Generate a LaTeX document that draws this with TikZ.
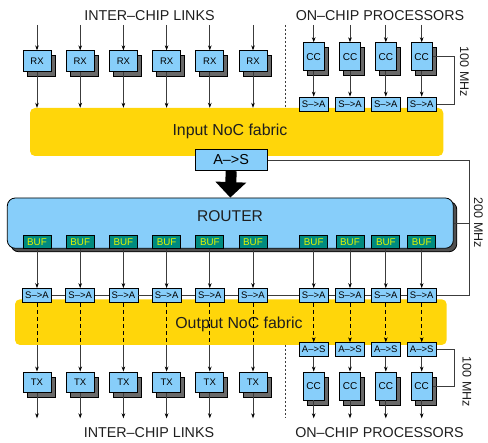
\documentclass[tikz,border=0pt]{standalone}
\usepackage{fontspec}
\setmainfont{Liberation Sans}
\usetikzlibrary{arrows.meta,shadows,calc}
\definecolor{lblue}{RGB}{135,206,250}
\definecolor{fyellow}{RGB}{255,214,10}
\definecolor{bufteal}{RGB}{0,139,128}
\definecolor{buftext}{RGB}{225,245,0}
\definecolor{shgray}{RGB}{105,105,105}
\definecolor{rshgray}{RGB}{80,80,80}
\definecolor{lgray}{RGB}{60,60,60}
\definecolor{txtc}{RGB}{30,30,30}
\begin{document}
\begin{tikzpicture}[x=1pt,y=-1pt,
  fs/.style={font=\fontsize{#1}{#1}\selectfont},
  box/.style={draw=black, fill=lblue, inner sep=0pt, line width=0.8pt},
  shbox/.style={box, copy shadow={shadow xshift=4pt, shadow yshift=-5pt, fill=shgray, draw=black}},
  rxbox/.style={shbox, minimum width=28pt, minimum height=20.5pt, fs=9.5},
  ccbox/.style={shbox, minimum width=21pt, minimum height=28pt, fs=10},
  convbox/.style={box, minimum width=29pt, minimum height=14pt, fs=9.5},
  bufbox/.style={draw=black, fill=bufteal, text=buftext, inner sep=0pt, line width=0.8pt, minimum width=28pt, minimum height=13pt, fs=9.8},
  fabric/.style={fill=fyellow, rounded corners=5pt, inner sep=0pt},
  heading/.style={fs=14.3, text=txtc, inner sep=0pt},
  arr/.style={draw=lgray, line width=0.7pt, -{Stealth[length=5pt,width=3.6pt,color=black]}},
  wire/.style={draw=lgray, line width=0.7pt},
  dwire/.style={draw=black, line width=0.7pt, dash pattern=on 4pt off 3pt},
  sep/.style={draw=lgray, line width=0.7pt, dash pattern=on 2pt off 2pt},
  freq/.style={fs=12.5, text=txtc, rotate=-90, inner sep=0pt}
]
\useasboundingbox (0,0) rectangle (488,443);

% headings
\node[heading] (h1) at (149.5,15.3) {INTER–CHIP LINKS};
\node[heading] (h2) at (380,15.3) {ON–CHIP PROCESSORS};
\node[heading] (h3) at (149,432.7) {INTER–CHIP LINKS};
\node[heading] (h4) at (379.5,432.7) {ON–CHIP PROCESSORS};

% separators
\coordinate (sepa) at (285,25);
\coordinate (sepb) at (285,107);
\coordinate (sepc) at (285,345);
\coordinate (sepd) at (285,418);
\draw[sep] (sepa) -- (sepb);
\draw[sep] (sepc) -- (sepd);

% fabrics
\node[fabric, minimum width=413.3pt, minimum height=48pt] (infab) at (236.65,132) {};
\node[fs=15.9, text=txtc, inner sep=0pt] (infabt) at (230,131.7) {Input NoC fabric};
\node[fabric, minimum width=431.7pt, minimum height=45.7pt] (outfab) at (230.85,322.15) {};
\node[fs=15.9, text=txtc, inner sep=0pt] (outfabt) at (239,324) {Output NoC fabric};

% router
\node[draw=black, fill=lblue, rounded corners=8pt, line width=0.8pt, inner sep=0pt,
  minimum width=446pt, minimum height=50.3pt,
  copy shadow={shadow xshift=3.5pt, shadow yshift=-3.5pt, fill=rshgray, draw=black}] (router) at (230.3,223.15) {};
\node[fs=15.6, text=txtc, inner sep=0pt] (routert) at (230,216) {ROUTER};

% A->S central
\node[box, minimum width=72pt, minimum height=21.4pt, fs=14.4] (as) at (231.2,160) {A–>S};
\draw[line width=11pt, -{Triangle[length=15.5pt,width=30pt]}] (as.south) -- (router.north);

% left columns
\foreach \x [count=\i] in {37,80.2,123.4,166.6,209.8,253} {
  \coordinate (rin\i) at (\x,25);
  \node[rxbox] (rx\i) at (\x,61) {RX};
  \draw[arr] (rin\i) -- (rx\i.north);
  \draw[arr] (rx\i.south) -- (rx\i.south |- infab.north);
  \node[bufbox] (buf\i) at (\x,241.7) {BUF};
  \node[convbox] (sab\i) at (\x,295.5) {S–>A};
  \draw[arr] (buf\i.south) -- (sab\i.north);
  \coordinate (ofl\i) at (\x,345);
  \draw[dwire] (sab\i.south) -- (ofl\i);
  \node[rxbox] (tx\i) at (\x,382.2) {TX};
  \draw[arr] (ofl\i) -- (tx\i.north);
  \coordinate (tout\i) at (\x,418.3);
  \draw[arr] (tx\i.south) -- (tout\i);
}

% right columns
\foreach \x [count=\j from 7] in {313.7,350,385.8,421.7} {
  \coordinate (cin\j) at (\x,25);
  \node[ccbox] (cc\j) at (\x,56.7) {CC};
  \draw[arr] (cin\j) -- (cc\j.north);
  \node[convbox] (sat\j) at (\x,104) {S–>A};
  \draw[arr] (cc\j.south) -- (sat\j.north);
  \node[bufbox] (buf\j) at (\x,241.7) {BUF};
  \node[convbox] (sab\j) at (\x,295.5) {S–>A};
  \draw[arr] (buf\j.south) -- (sab\j.north);
  \node[convbox] (asb\j) at (\x,349.7) {A–>S};
  \draw[dwire, -{Stealth[length=5pt,width=3.6pt,color=black]}] (sab\j.south) -- (asb\j.north);
  \node[ccbox] (ccb\j) at (\x,386) {CC};
  \draw[arr] (asb\j.south) -- (ccb\j.north);
  \coordinate (cout\j) at (\x,418.3);
  \draw[arr] (ccb\j.south) -- (cout\j);
}

% horizontal chain through lower S->A
\foreach \a/\b in {1/2,2/3,3/4,4/5,5/6,6/7,7/8,8/9,9/10} {
  \draw[wire] (sab\a.east) -- (sab\b.west);
}

% 200 MHz clock line
\coordinate (k2a) at (469,160);
\coordinate (k2b) at (469,295.5);
\draw[wire] (as.east) -- (k2a) -- (k2b) -- (sab10.east);
\draw[wire] (router.east) -- (router.east -| k2a);
\node[freq] (f200) at (478.5,223) {200 MHz};

% 100 MHz top
\coordinate (k1a) at (454.3,56.7);
\draw[wire] (cc10.east) -- (k1a) |- (sat10.east);
\node[freq] (f100a) at (464.5,72) {100 MHz};

% 100 MHz bottom
\coordinate (k3a) at (454.3,349.7);
\draw[wire] (asb10.east) -- (k3a) |- (ccb10.east);
\node[freq] (f100b) at (467,382) {100 MHz};
\end{tikzpicture}
\end{document}
